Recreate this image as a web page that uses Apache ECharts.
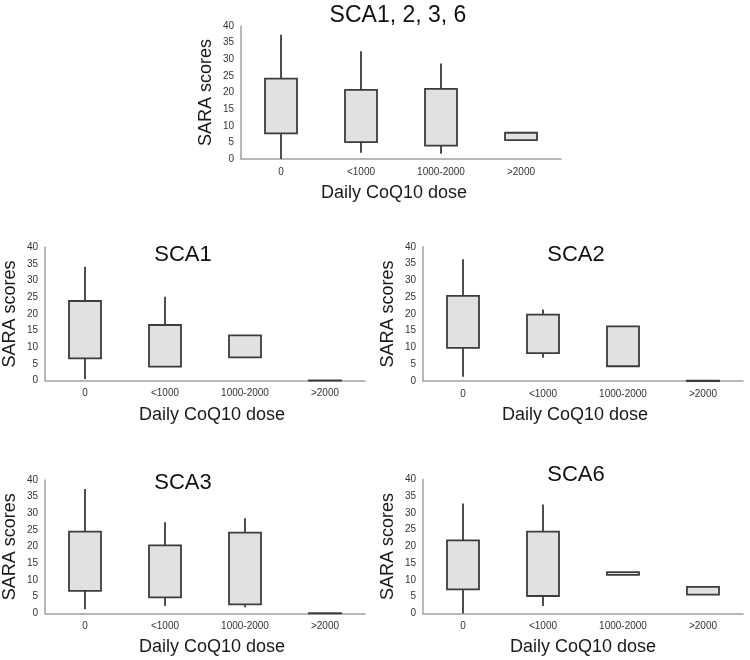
<!DOCTYPE html>
<html>
<head>
<meta charset="utf-8">
<script src="https://cdn.jsdelivr.net/npm/echarts@6/dist/echarts.min.js"></script>
<style>html,body{margin:0;padding:0;background:#fff;}#c{width:750px;height:660px;}</style>
</head>
<body>
<div id="c"></div>
<script>
// Categories and tick settings
const categories = ['0', '<1000', '1000-2000', '>2000'];
const yMin = 0, yMax = 40, yStep = 5;
const panelTitles = ['SCA1, 2, 3, 6', 'SCA1', 'SCA2', 'SCA3', 'SCA6'];
const xName = 'Daily CoQ10 dose';
const yName = 'SARA scores';

// Each entry: [min, Q1, Q3, max] per category
const sca1236 = [[0, 7.7, 24.2, 37.4], [1.9, 5.1, 20.8, 32.4], [1.6, 4.0, 21.1, 28.7], [5.7, 5.7, 7.9, 7.9]];
const sca1 = [[0.5, 6.7, 23.9, 34.2], [4.2, 4.2, 16.7, 25.2], [7.0, 7.0, 13.6, 13.6], [0, 0, 0.1, 0.1]];
const sca2 = [[1.3, 9.9, 25.4, 36.3], [6.9, 8.3, 19.8, 21.3], [4.4, 4.4, 16.3, 16.3], [0, 0, 0.1, 0.1]];
const sca3 = [[1.2, 6.7, 24.5, 37.3], [2.2, 4.8, 20.4, 27.3], [1.8, 2.7, 24.2, 28.5], [0, 0, 0.05, 0.05]];
const sca6 = [[0, 7.2, 21.8, 32.8], [2.2, 5.2, 24.4, 32.5], [11.5, 11.5, 12.3, 12.3], [5.6, 5.6, 7.9, 7.9]];

const panels = [sca1236, sca1, sca2, sca3, sca6];

// layout (positions / styles)
const grids = [
  {left: 241, top: 26, width: 320, height: 133},
  {left: 45, top: 247.3, width: 320, height: 133.4},
  {left: 423, top: 246.8, width: 320, height: 134.2},
  {left: 45, top: 480, width: 320, height: 133.3},
  {left: 423, top: 479.4, width: 320, height: 134}
];
const titlePos = [[398, 4], [183, 244], [576, 244], [183, 471.5], [576, 464]];
const titleSize = [23, 22, 22, 22, 22];
const xNameShift = [-7, 7, -8, 7, 0];
const FONT = '"Liberation Sans", Arial, Helvetica, sans-serif';
const dark = '#3c3c3c';

function renderItem(params, api) {
  const x = api.value(0);
  const lo = api.coord([x, api.value(1)]);
  const q1 = api.coord([x, api.value(2)]);
  const q3 = api.coord([x, api.value(3)]);
  const hi = api.coord([x, api.value(4)]);
  const w = api.size([1, 0])[0] * 0.4;
  const cx = q1[0];
  const children = [];
  const lineStyle = {stroke: dark, lineWidth: 1.8};
  if (hi[1] < q3[1] - 0.5) {
    children.push({type: 'line', shape: {x1: cx, y1: hi[1], x2: cx, y2: q3[1]}, style: lineStyle});
  }
  if (lo[1] > q1[1] + 0.5) {
    children.push({type: 'line', shape: {x1: cx, y1: q1[1], x2: cx, y2: lo[1]}, style: lineStyle});
  }
  children.push({
    type: 'rect',
    shape: {x: cx - w / 2, y: q3[1], width: w, height: Math.max(q1[1] - q3[1], 0)},
    style: {fill: '#e1e1e1', stroke: dark, lineWidth: 1.8}
  });
  return {type: 'group', children: children};
}

const option = {
  backgroundColor: '#fff',
  animation: false,
  title: panelTitles.map((t, i) => ({
    text: t,
    left: titlePos[i][0],
    top: titlePos[i][1],
    padding: 0,
    textAlign: 'center',
    textStyle: {fontFamily: FONT, fontSize: titleSize[i], fontWeight: 'normal', color: '#111'}
  })),
  grid: grids,
  xAxis: grids.map((g, i) => ({
    type: 'category',
    gridIndex: i,
    data: categories,
    name: xName,
    nameLocation: 'middle',
    nameGap: 25,
    nameTextStyle: {
      fontFamily: FONT, fontSize: 18, color: '#1a1a1a', verticalAlign: 'top',
      padding: xNameShift[i] >= 0 ? [0, 0, 0, 2 * xNameShift[i]] : [0, -2 * xNameShift[i], 0, 0]
    },
    axisLine: {show: true, lineStyle: {color: '#a0a0a0', width: 1.5}},
    axisTick: {show: false},
    axisLabel: {fontFamily: FONT, fontSize: 10, color: '#333', margin: 8, interval: 0},
    splitLine: {show: false}
  })),
  yAxis: grids.map((g, i) => ({
    type: 'value',
    gridIndex: i,
    min: yMin, max: yMax, interval: yStep,
    name: yName,
    nameLocation: 'middle',
    nameGap: 26,
    nameTextStyle: {fontFamily: FONT, fontSize: 18, color: '#1a1a1a'},
    axisLine: {show: true, lineStyle: {color: '#a0a0a0', width: 1.5}},
    axisTick: {show: false},
    axisLabel: {fontFamily: FONT, fontSize: 10, color: '#333', margin: 7},
    splitLine: {show: false}
  })),
  series: panels.map((arr, i) => ({
    type: 'custom',
    xAxisIndex: i,
    yAxisIndex: i,
    renderItem: renderItem,
    encode: {x: 0, y: [1, 2, 3, 4]},
    data: arr.map((d, k) => [k, d[0], d[1], d[2], d[3]])
  }))
};

const chart = echarts.init(document.getElementById('c'), null, {renderer: 'canvas'});
chart.setOption(option);
</script>
</body>
</html>
